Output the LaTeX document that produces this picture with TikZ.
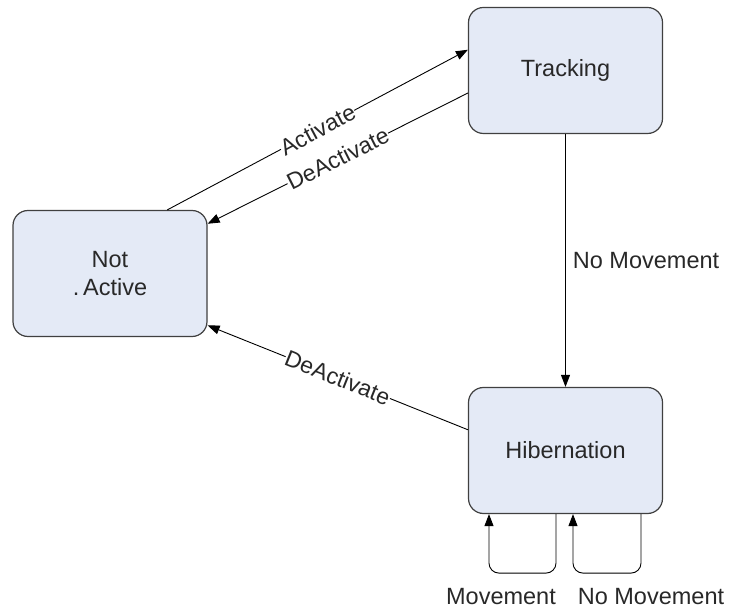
\documentclass[tikz,border=0pt]{standalone}
\usepackage{fontspec}
\setmainfont{Liberation Sans}
\usetikzlibrary{arrows.meta}
\definecolor{boxfill}{RGB}{228,234,246}
\definecolor{boxline}{RGB}{64,64,64}
\definecolor{inkgray}{RGB}{40,40,40}
\tikzset{
	state/.style={draw=boxline,fill=boxfill,line width=1.2pt,rounded corners=15pt,minimum width=194pt,minimum height=126pt,align=center,text=inkgray,font=\fontsize{23.5}{28}\selectfont},
	trans/.style={line width=0.9pt,-{Triangle[length=12pt,width=9pt]}},
	tlabel/.style={font=\fontsize{23}{27}\selectfont,text=inkgray,fill=white,inner sep=0.5pt},
	plabel/.style={font=\fontsize{23.5}{27}\selectfont,text=inkgray,inner sep=0pt}
}
\begin{document}
\begin{tikzpicture}[x=1pt,y=-1pt]
						\useasboundingbox (0,0) rectangle (729,609);
						\node [state] (notactive) at (110,273.5) {Not\\.\,Active};
						\node [state] (tracking) at (565.5,70.5) {Tracking};
						\node [state] (hibernation) at (565.5,450.5) {Hibernation};
						
						\draw [trans] (notactive.48) -- node [tlabel,sloped] (lact) {Activate} (tracking.168);
						\draw [trans] (tracking.193) -- node [tlabel,sloped] (ldeact) {DeActivate} (notactive.27.5);
						\draw [trans] (hibernation.168) -- node [tlabel,sloped] (ldeacth) {DeActivate} (notactive.-28);
						\draw [trans] (tracking.south) -- node [plabel,right,xshift=7pt] (lnomove) {No Movement} (hibernation.south |- hibernation.north);
						
						\draw [trans,rounded corners=10pt] ([xshift=-9.5pt]hibernation.south) -- ++(0,59) -| ([xshift=-76.5pt]hibernation.south);
						\draw [trans,rounded corners=10pt] ([xshift=75.5pt]hibernation.south) -- ++(0,59) -| ([xshift=7.5pt]hibernation.south);
						\node [plabel] (lmove) at (501,597) {Movement};
						\node [plabel] (lstill) at (651,597) {No Movement};
\end{tikzpicture}
\end{document}
